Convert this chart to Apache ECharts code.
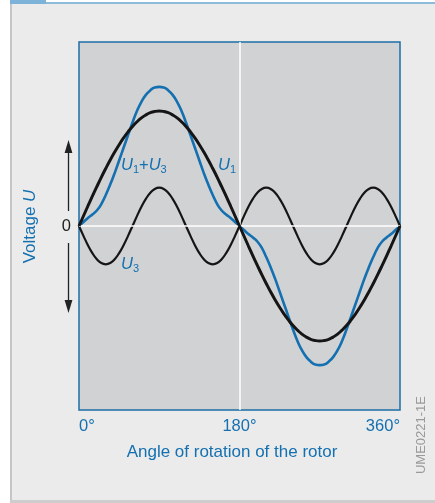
<!DOCTYPE html>
<html>
<head>
<meta charset="utf-8">
<script src="https://cdn.jsdelivr.net/npm/echarts@6/dist/echarts.min.js"></script>
<style>
html,body{margin:0;padding:0;background:#fff;}
#chart{width:435px;height:503px;}
</style>
</head>
<body>
<div id="chart"></div>
<script>
// Angle of rotation (degrees), sampled every 5°
const angles = [0,5,10,15,20,25,30,35,40,45,50,55,60,65,70,75,80,85,90,95,100,105,110,115,120,125,130,135,140,145,150,155,160,165,170,175,180,
  185,190,195,200,205,210,215,220,225,230,235,240,245,250,255,260,265,270,275,280,285,290,295,300,305,310,315,320,325,330,335,340,345,350,355,360];

// U1 (fundamental), amplitude = 1
const u1Values = [0,0.087,0.174,0.259,0.342,0.423,0.5,0.574,0.643,0.707,0.766,0.819,0.866,0.906,0.94,0.966,0.985,0.996,1,0.996,0.985,0.966,0.94,0.906,0.866,0.819,0.766,0.707,0.643,0.574,0.5,0.423,0.342,0.259,0.174,0.087,0,
  -0.087,-0.174,-0.259,-0.342,-0.423,-0.5,-0.574,-0.643,-0.707,-0.766,-0.819,-0.866,-0.906,-0.94,-0.966,-0.985,-0.996,-1,-0.996,-0.985,-0.966,-0.94,-0.906,-0.866,-0.819,-0.766,-0.707,-0.643,-0.574,-0.5,-0.423,-0.342,-0.259,-0.174,-0.087,0];

// U3 (third harmonic)
const u3Values = [0,-0.086,-0.167,-0.236,-0.289,-0.322,-0.333,-0.322,-0.289,-0.236,-0.167,-0.086,0,0.086,0.167,0.236,0.289,0.322,0.333,0.322,0.289,0.236,0.167,0.086,0,-0.086,-0.167,-0.236,-0.289,-0.322,-0.333,-0.322,-0.289,-0.236,-0.167,-0.086,0,
  0.086,0.167,0.236,0.289,0.322,0.333,0.322,0.289,0.236,0.167,0.086,0,-0.086,-0.167,-0.236,-0.289,-0.322,-0.333,-0.322,-0.289,-0.236,-0.167,-0.086,0,0.086,0.167,0.236,0.289,0.322,0.333,0.322,0.289,0.236,0.167,0.086,0];

// U1+U3 (blue curve as drawn)
const sumValues = [0,0.035,0.07,0.1,0.135,0.19,0.27,0.36,0.46,0.57,0.68,0.79,0.9,1.0,1.08,1.14,1.18,1.205,1.21,1.205,1.18,1.14,1.08,1.0,0.9,0.79,0.68,0.57,0.46,0.36,0.27,0.19,0.135,0.1,0.07,0.035,0,
  -0.035,-0.07,-0.1,-0.135,-0.19,-0.27,-0.36,-0.46,-0.57,-0.68,-0.79,-0.9,-1.0,-1.08,-1.14,-1.18,-1.205,-1.21,-1.205,-1.18,-1.14,-1.08,-1.0,-0.9,-0.79,-0.68,-0.57,-0.46,-0.36,-0.27,-0.19,-0.135,-0.1,-0.07,-0.035,0];

const xTickLabels = {0:'0°',180:'180°',360:'360°'};

const FONT = 'Liberation Sans, Arial, Helvetica, sans-serif';
const BLUE = '#1470b0';
const pair = vals => angles.map((a,i)=>[a, vals[i]]);

const chart = echarts.init(document.getElementById('chart'), null, {renderer:'canvas'});
const subRich = {
  i:{fontStyle:'italic', fontSize:16.5, fontFamily:FONT, fill:BLUE, lineHeight:20, verticalAlign:'middle'},
  n:{fontSize:16.5, fontFamily:FONT, fill:BLUE, lineHeight:20, verticalAlign:'middle'},
  s:{fontSize:11, fontFamily:FONT, fill:BLUE, lineHeight:11, verticalAlign:'bottom'}
};
chart.setOption({
  backgroundColor:'#ffffff',
  animation:false,
  grid:{left:79, top:42, width:321, height:368, show:true, backgroundColor:'#d1d2d4', borderColor:'#1d6ea5', borderWidth:1.5},
  xAxis:{type:'value', min:0, max:360, interval:180,
    axisLine:{show:false}, axisTick:{show:false}, splitLine:{show:false},
    axisLabel:{color:BLUE, fontSize:16.5, fontFamily:FONT, margin:8, alignMinLabel:'left', alignMaxLabel:'right',
      formatter:v=>xTickLabels[v]||''}},
  yAxis:{type:'value', min:-1.6, max:1.6, interval:1.6,
    axisLine:{show:false}, axisTick:{show:false}, splitLine:{show:false},
    axisLabel:{color:'#222', fontSize:16.5, fontFamily:FONT, margin:8, formatter:v=>Math.abs(v)<1e-9?'0':''}},
  series:[
    {type:'line', data:[], z:1, silent:true,
      markLine:{silent:true, symbol:'none', label:{show:false}, animation:false,
        lineStyle:{color:'#ffffff', width:1.5, type:'solid'},
        data:[{xAxis:180},{yAxis:0}]}},
    {name:'U1+U3', type:'line', data:pair(sumValues), smooth:true, showSymbol:false, z:3,
      lineStyle:{color:BLUE, width:2.6}},
    {name:'U3', type:'line', data:pair(u3Values), smooth:true, showSymbol:false, z:4,
      lineStyle:{color:'#151515', width:2.2}},
    {name:'U1', type:'line', data:pair(u1Values), smooth:true, showSymbol:false, z:5,
      lineStyle:{color:'#151515', width:3}}
  ],
  graphic:[
    {type:'rect', z:-10, shape:{x:10,y:4,width:425,height:496}, style:{fill:'#ebebeb'}},
    {type:'rect', z:-9, shape:{x:10,y:4,width:2,height:499}, style:{fill:'#c6c6c6'}},
    {type:'rect', z:-9, shape:{x:10,y:500,width:425,height:3}, style:{fill:'#cdcdcd'}},
    {type:'rect', z:-9, shape:{x:10,y:0,width:36,height:4}, style:{fill:'#7db3d8'}},
    {type:'rect', z:-9, shape:{x:46,y:2,width:389,height:2}, style:{fill:'#8dbbdc'}},
    {type:'line', shape:{x1:68.5,y1:211,x2:68.5,y2:150}, style:{stroke:'#222',lineWidth:1.3}},
    {type:'polygon', shape:{points:[[68.5,140],[64.6,153],[72.4,153]]}, style:{fill:'#222'}},
    {type:'line', shape:{x1:68.5,y1:243,x2:68.5,y2:303}, style:{stroke:'#222',lineWidth:1.3}},
    {type:'polygon', shape:{points:[[68.5,313],[64.6,300],[72.4,300]]}, style:{fill:'#222'}},
    {type:'text', x:30, y:226.5, rotation:Math.PI/2,
      style:{text:'{a|Voltage }{b|U}', align:'center', verticalAlign:'middle',
        rich:{a:{fontSize:17, fontFamily:FONT, fill:BLUE}, b:{fontSize:17, fontFamily:FONT, fontStyle:'italic', fill:BLUE}}}},
    {type:'text', x:232, y:452,
      style:{text:'Angle of rotation of the rotor', align:'center', verticalAlign:'middle', fill:BLUE, font:'17px '+FONT}},
    {type:'text', x:421, y:435, rotation:Math.PI/2,
      style:{text:'UME0221-1E', align:'center', verticalAlign:'middle', fill:'#9a9a9a', font:'13px '+FONT}},
    {type:'text', x:121, y:165,
      style:{text:'{i|U}{s|1}{n|+}{i|U}{s|3}', align:'left', verticalAlign:'middle', rich:subRich}},
    {type:'text', x:218, y:165,
      style:{text:'{i|U}{s|1}', align:'left', verticalAlign:'middle', rich:subRich}},
    {type:'text', x:121, y:264,
      style:{text:'{i|U}{s|3}', align:'left', verticalAlign:'middle', rich:subRich}}
  ]
});
</script>
</body>
</html>
